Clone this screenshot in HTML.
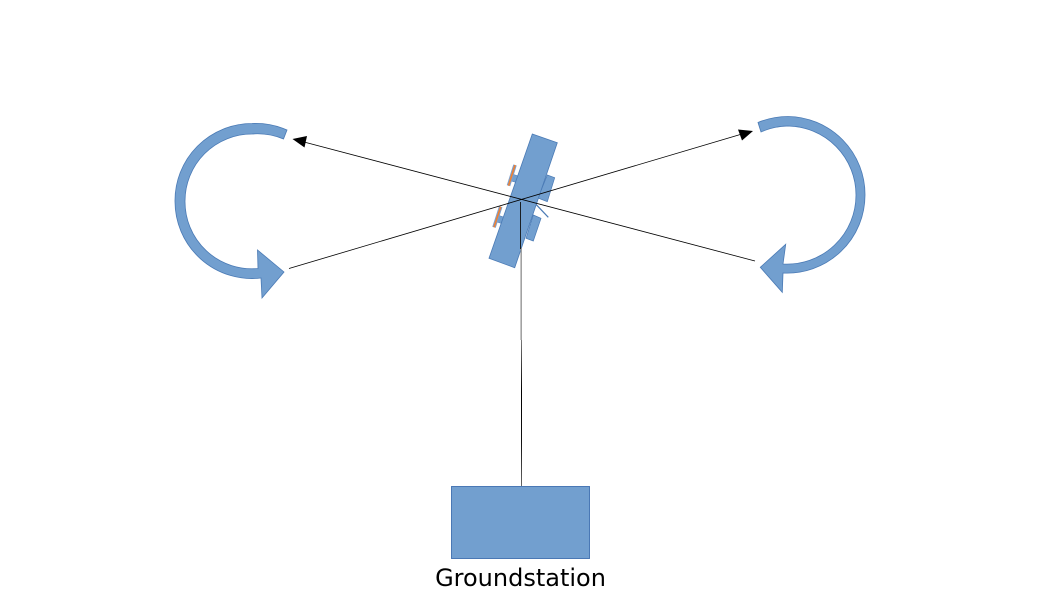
<!DOCTYPE html>
<html>
<head>
<meta charset="utf-8">
<style>
html,body{margin:0;padding:0;background:#fff;width:1058px;height:595px;overflow:hidden}
svg{display:block}
</style>
</head>
<body>
<svg width="1058" height="595" viewBox="0 0 1058 595" xmlns="http://www.w3.org/2000/svg">
  <defs>
    <linearGradient id="t" gradientUnits="userSpaceOnUse" x1="0" y1="340" x2="0" y2="486">
      <stop offset="0" stop-color="#777"/>
      <stop offset="0.35" stop-color="#000"/>
      <stop offset="0.7" stop-color="#111"/>
      <stop offset="1" stop-color="#666"/>
    </linearGradient>
  </defs>
  <rect width="1058" height="595" fill="#fff"/>

  <!-- Left curved arrow -->
  <path d="M287 130 L283.5 139 A68 68 0 0 0 252 134 A67 67 0 0 0 185 201 A67 67 0 0 0 258 268.5 L257.5 250 L284 272 L262 298 L261 278 A77 77 0 0 1 175 201 A77 77 0 0 1 252 123.500 A78 78 0 0 1 287 130 Z" fill="#729fcf" stroke="#4a7ab5" stroke-width="0.8"/>

  <!-- Right curved arrow -->
  <path d="M758 122.500 L761 132 A67 67 0 0 1 788 126 A69 69 0 0 1 856 195 A69 69 0 0 1 783 264 L785.700 244.300 L760.300 267.300 L782.300 292.300 L783 273 A78 78 0 0 0 865 195 A78 78 0 0 0 788 116.500 A78 78 0 0 0 758 122.500 Z" fill="#729fcf" stroke="#4a7ab5" stroke-width="0.8"/>

  <!-- Aircraft: small side parts -->
  <polygon points="547.300,175 554.700,177.700 547.300,201.700 538,198" fill="#729fcf" stroke="#4a7ab5" stroke-width="0.7"/>
  <polygon points="533.300,215 541,218.300 533.300,241 526,238.300" fill="#729fcf" stroke="#4a7ab5" stroke-width="0.7"/>
  <line x1="535" y1="203.300" x2="548.300" y2="217.300" stroke="#4a7ab5" stroke-width="1.200"/>
  <polygon points="512,174 520,176.500 518,183 509.500,180.500" fill="#729fcf" stroke="#4a7ab5" stroke-width="0.5"/>
  <polygon points="497.500,215 505,217.500 503,224 495.500,221.500" fill="#729fcf" stroke="#4a7ab5" stroke-width="0.5"/>
  <line x1="515" y1="165" x2="508.500" y2="185.700" stroke="#7fa0cc" stroke-width="3.600"/>
  <line x1="515" y1="165" x2="508.500" y2="185.700" stroke="#f08030" stroke-width="1.600"/>
  <line x1="500.700" y1="206.700" x2="494" y2="227.300" stroke="#7fa0cc" stroke-width="3.600"/>
  <line x1="500.700" y1="206.700" x2="494" y2="227.300" stroke="#f08030" stroke-width="1.600"/>

  <!-- Aircraft body -->
  <polygon points="532.300,134 557.300,142.700 514.700,267.700 489,258.300" fill="#729fcf" stroke="#4a7ab5" stroke-width="0.8"/>

  <!-- Vertical tether -->
  <rect x="520.500" y="248" width="1.300" height="92" fill="#8c8c8c"/>
  <rect x="521" y="340" width="1" height="146" fill="url(#t)"/>
  <line x1="520.500" y1="202" x2="520.500" y2="249" stroke="#111" stroke-width="0.9"/>

  <!-- Crossing lines -->
  <line x1="289" y1="268.500" x2="742" y2="134" stroke="#000" stroke-width="0.8"/>
  <polygon points="753,131 738,129.500 742,140.500" fill="#000"/>
  <line x1="755" y1="261" x2="304" y2="142" stroke="#000" stroke-width="0.8"/>
  <polygon points="292.500,139 307,136 304.500,147.500" fill="#000"/>

  <!-- Groundstation -->
  <rect x="451.500" y="486.500" width="138" height="72" fill="#729fcf" stroke="#3f6fb0" stroke-width="0.9"/>
  <text x="520.500" y="586" text-anchor="middle" font-family="'DejaVu Sans', sans-serif" font-size="24" fill="#000">Groundstation</text>
</svg>
</body>
</html>
